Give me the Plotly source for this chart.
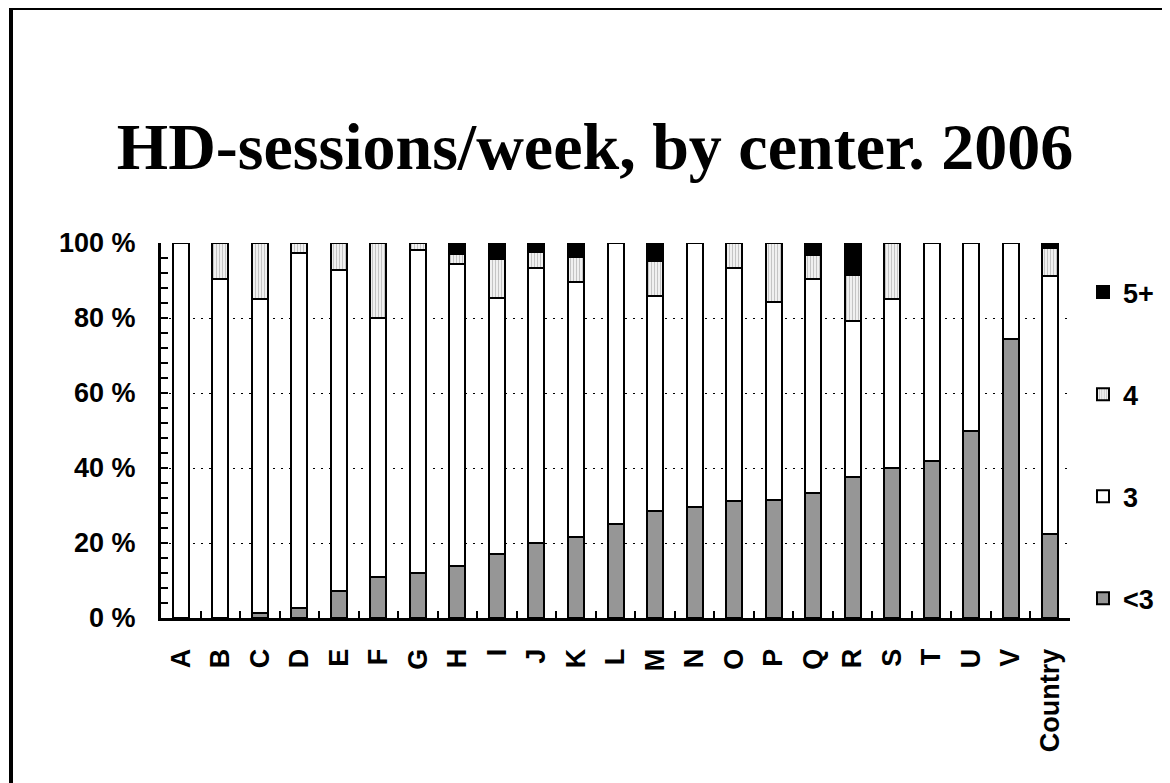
import plotly.graph_objects as go

categories = ["A", "B", "C", "D", "E", "F", "G", "H", "I", "J", "K", "L",
              "M", "N", "O", "P", "Q", "R", "S", "T", "U", "V", "Country"]
lt3 = [0, 0, 1.4, 2.7, 7.2, 11.0, 11.9, 13.8, 17.0, 19.9, 21.5, 25.0,
       28.6, 29.7, 31.2, 31.4, 33.4, 37.7, 40.0, 41.9, 49.9, 74.4, 22.3]
three = [100, 90.5, 83.6, 94.6, 85.5, 69.1, 86.3, 80.6, 68.3, 73.4, 68.1, 75.0,
         57.3, 70.3, 62.1, 53.0, 57.1, 41.6, 45.0, 58.1, 50.1, 25.6, 69.0]
four = [0, 9.5, 15.0, 2.7, 7.3, 19.9, 1.8, 2.7, 10.4, 4.4, 6.7, 0,
        9.2, 0, 6.7, 15.6, 6.2, 12.2, 15.0, 0, 0, 0, 7.5]
five_plus = [0, 0, 0, 0, 0, 0, 0, 2.9, 4.3, 2.3, 3.7, 0,
             4.9, 0, 0, 0, 3.3, 8.5, 0, 0, 0, 0, 1.2]
series_names = ["<3", "3", "4", "5+"]
title_text = "HD-sessions/week, by center. 2006"

SANS = "Liberation Sans, Arial, sans-serif"
SERIF = "Liberation Serif, Times New Roman, serif"
FS = 27

fig = go.Figure()
line = dict(color="black", width=2)
fig.add_trace(go.Bar(x=categories, y=lt3, name=series_names[0], legendgroup="a", legendrank=4,
                     marker=dict(color="#969696", line=line)))
fig.add_trace(go.Bar(x=categories, y=three, name=series_names[1], legendgroup="b", legendrank=3,
                     marker=dict(color="white", line=line)))
fig.add_trace(go.Bar(x=categories, y=four, name=series_names[2], legendgroup="c", legendrank=2,
                     marker=dict(color="white", line=line,
                                 pattern=dict(shape="|", fgcolor="#8a8a8a", bgcolor="white",
                                              size=3, solidity=0.5))))
fig.add_trace(go.Bar(x=categories, y=five_plus, name=series_names[3], legendgroup="d", legendrank=1,
                     marker=dict(color="black", line=line)))

OFF = 8  # page body margin
W, H = 1170, 783
L, T = 161 - OFF, 243 - OFF
pw, ph = 909, 375
R = W - L - pw
B = H - T - ph

def px_x(p):
    return (p - OFF - L) / pw

def px_y(p):
    return (H - B - (p - OFF)) / ph

fig.update_layout(
    width=W, height=H,
    barmode="stack", bargap=0.595,
    paper_bgcolor="white", plot_bgcolor="white",
    margin=dict(l=L, r=R, t=T, b=B, autoexpand=False),
    title=dict(text=title_text, x=px_x(595), xref="paper", xanchor="center",
               y=1 - 138 / H, yref="container", yanchor="middle",
               font=dict(family=SERIF, size=66, color="black", weight="bold")),
    font=dict(family=SANS, size=FS, color="black"),
    showlegend=True,
    legend=dict(traceorder="grouped", tracegroupgap=64,
                x=px_x(1083), xanchor="left", y=px_y(268), yanchor="top",
                font=dict(family=SANS, size=FS, color="black", weight="bold"),
                bgcolor="rgba(0,0,0,0)", itemwidth=30),
)
fig.update_xaxes(
    type="category", showline=True, linecolor="black", linewidth=3,
    ticks="inside", tickson="boundaries", ticklen=7, tickwidth=2, tickcolor="black",
    tickangle=-90, tickfont=dict(family=SANS, size=FS, color="black", weight="bold"),
    ticklabelstandoff=17, showgrid=False, zeroline=False,
)
fig.update_yaxes(
    range=[0, 100], showline=True, linecolor="black", linewidth=3,
    tickmode="linear", tick0=0, dtick=20, ticksuffix=" %",
    ticks="inside", ticklen=7, tickwidth=2, tickcolor="black",
    minor=dict(ticks="inside", dtick=4, ticklen=7, tickwidth=2, tickcolor="black", showgrid=False),
    showgrid=True, gridcolor="black", gridwidth=1, griddash="2px,6px",
    tickfont=dict(family=SANS, size=FS, color="black", weight="bold"),
    ticklabelstandoff=17, zeroline=False,
)
# outer frame of the chart
fig.add_shape(type="rect", xref="paper", yref="paper",
              x0=px_x(11), x1=px_x(1185), y0=px_y(800), y1=px_y(8),
              line=dict(color="black", width=4), fillcolor="rgba(0,0,0,0)", layer="below")

fig.write_html("out.html")
